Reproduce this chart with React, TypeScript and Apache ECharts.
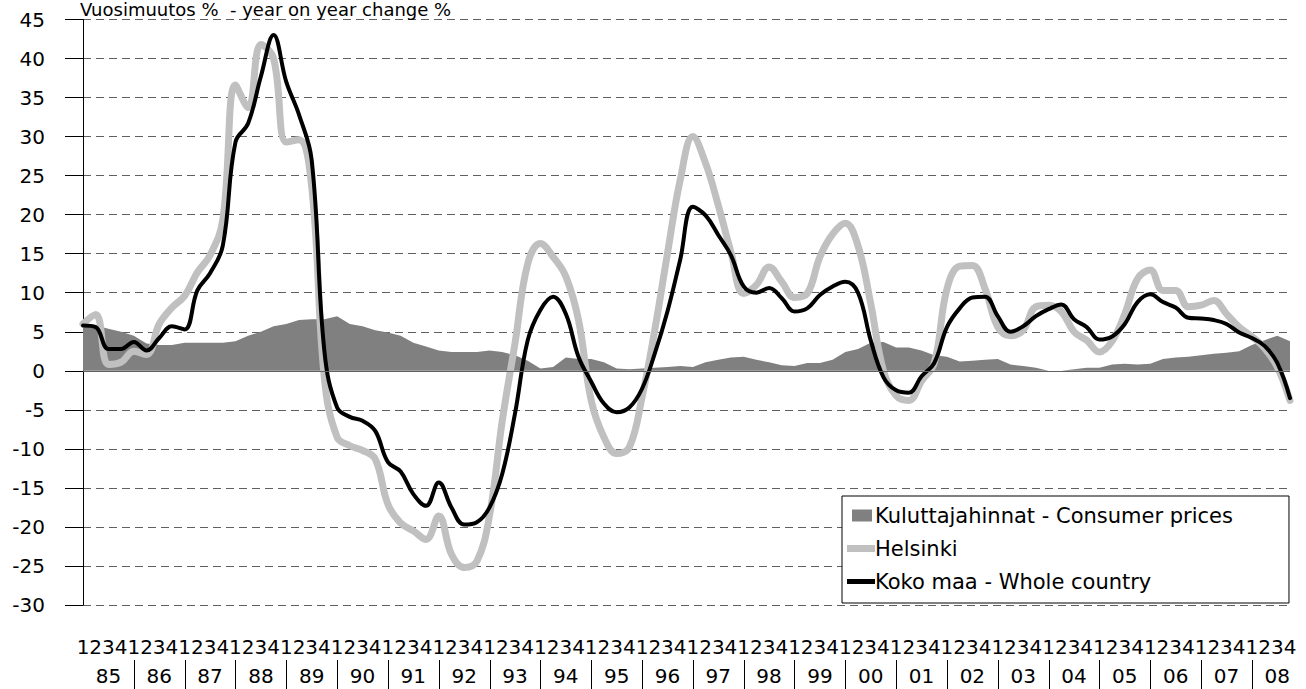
import React, { useEffect, useRef } from 'react';
import * as echarts from 'echarts';

const years = ['85', '86', '87', '88', '89', '90', '91', '92', '93', '94', '95', '96', '97', '98', '99', '00', '01', '02', '03', '04', '05', '06', '07', '08'];
const quarters = ['1', '2', '3', '4'];

const consumerPrices = [
  6.1, 5.8, 5.4, 5.0, 4.5, 3.5, 3.3, 3.3, 3.6, 3.6, 3.6, 3.6,
  3.8, 4.5, 5.0, 5.7, 6.0, 6.5, 6.6, 6.6, 7.0, 6.0, 5.7, 5.2,
  4.9, 4.5, 3.6, 3.1, 2.6, 2.4, 2.4, 2.4, 2.6, 2.4, 2.0, 1.3,
  0.3, 0.5, 1.7, 1.5, 1.5, 1.1, 0.3, 0.2, 0.3, 0.4, 0.5, 0.6,
  0.5, 1.1, 1.4, 1.7, 1.8, 1.4, 1.1, 0.7, 0.6, 1.0, 1.0, 1.4,
  2.4, 2.8, 3.6, 3.7, 3.0, 3.0, 2.6, 2.0, 1.8, 1.2, 1.3, 1.4,
  1.5, 0.8, 0.6, 0.4, 0.0, 0.0, 0.2, 0.4, 0.4, 0.8, 0.9, 0.8,
  0.9, 1.5, 1.7, 1.8, 2.0, 2.2, 2.3, 2.5, 3.3, 3.9, 4.5, 3.8,
];

const helsinki = [
  6.0, 7.2, 0.8, 1.1, 2.5, 2.1, 6.0, 8.1, 9.6, 12.6, 14.8, 19.3,
  36.6, 33.7, 41.8, 40.0, 29.3, 29.6, 23.6, -1.0, -8.5, -9.6, -10.2, -11.3,
  -17.1, -19.5, -20.5, -21.6, -18.6, -23.5, -25.2, -24.4, -18.5, -6.4, 3.5, 13.7,
  16.3, 14.6, 12.1, 6.5, -3.8, -8.5, -10.6, -9.8, -3.4, 5.2, 15.0, 24.4,
  30.0, 26.6, 21.2, 15.2, 9.9, 11.0, 13.3, 11.4, 9.4, 9.9, 14.6, 17.5,
  18.9, 16.0, 8.6, 0.0, -3.2, -3.8, -1.3, 1.0, 10.5, 13.4, 13.5, 10.5,
  5.6, 4.5, 5.2, 8.2, 8.4, 7.6, 5.0, 3.9, 2.4, 3.8, 7.3, 11.8,
  12.9, 10.3, 10.3, 8.2, 8.4, 9.0, 7.3, 5.6, 4.4, 2.9, 0.5, -3.8,
];

const wholeCountry = [
  5.8, 5.6, 2.8, 2.8, 3.7, 2.6, 4.2, 5.7, 5.3, 10.3, 12.5, 16.0,
  29.3, 31.7, 37.7, 43.0, 37.0, 32.8, 27.0, 2.5, -4.7, -5.9, -6.4, -7.7,
  -11.7, -12.9, -15.8, -17.3, -14.3, -17.5, -19.7, -19.4, -17.5, -13.2, -5.5, 3.9,
  7.8, 9.5, 7.3, 1.8, -1.4, -4.2, -5.3, -4.7, -2.3, 2.2, 7.6, 14.2,
  21.0, 19.9, 17.4, 14.8, 10.8, 10.0, 10.6, 9.3, 7.6, 8.0, 9.7, 10.8,
  11.4, 10.0, 3.9, -0.8, -2.5, -2.8, -0.7, 1.0, 5.6, 8.0, 9.4, 9.5,
  7.0, 5.0, 5.7, 7.0, 7.9, 8.5, 6.6, 5.6, 4.0, 4.4, 6.0, 8.8,
  9.8, 8.8, 8.1, 6.8, 6.7, 6.5, 6.0, 4.9, 4.2, 3.2, 1.0, -3.5,
];

const yMin = -30;
const yMax = 45;
const yStep = 5;

const titleText = 'Vuosimuutos %  - year on year change %';
const nameCPI = 'Kuluttajahinnat - Consumer prices';
const nameHelsinki = 'Helsinki';
const nameWhole = 'Koko maa - Whole country';

const FONT = 'DejaVu Sans';

export default function App() {
  const ref = useRef<HTMLDivElement>(null);

  useEffect(() => {
    if (!ref.current) return;
    const chart = echarts.init(ref.current, undefined, { renderer: 'svg' });
    const categories = years.flatMap((y) => quarters.map((q) => `${y}/${q}`));
    const yearIndex = years.map((_, i) => [i, yMin]);

    const option: any = {
      animation: false,
      backgroundColor: '#ffffff',
      textStyle: { fontFamily: FONT, color: '#000' },
      title: {
        text: titleText,
        left: 80,
        top: 0,
        padding: 0,
        textStyle: { fontFamily: FONT, fontSize: 18, fontWeight: 'normal', color: '#000' },
      },
      grid: { left: 83, right: 16, top: 19.5, bottom: 84, containLabel: false },
      legend: {
        orient: 'vertical',
        left: 842,
        top: 496,
        padding: [9, 56, 11, 3],
        itemGap: 12,
        itemWidth: 30,
        itemHeight: 14,
        backgroundColor: '#ffffff',
        borderColor: '#000000',
        borderWidth: 1,
        borderRadius: 0,
        itemStyle: { borderWidth: 0 },
        textStyle: { fontFamily: FONT, fontSize: 21, color: '#000', padding: [0, 0, 0, -5] },
        data: [
          { name: nameCPI, icon: 'path://M0 0M30 14M7 1h20v12H7z' },
          { name: nameHelsinki, icon: 'path://M0 0M30 14M2 3.5h28v7H2z' },
          { name: nameWhole, icon: 'path://M0 0M30 14M2 4.5h28v5H2z' },
        ],
      },
      xAxis: {
        type: 'category',
        data: categories,
        boundaryGap: false,
        axisLine: { show: false },
        axisTick: { show: false },
        splitLine: { show: false },
        axisLabel: {
          interval: 0,
          margin: 32,
          fontSize: 20,
          fontFamily: FONT,
          color: '#000',
          formatter: (v: string) => v.split('/')[1],
        },
      },
      yAxis: {
        type: 'value',
        min: yMin,
        max: yMax,
        interval: yStep,
        axisLine: { show: true, lineStyle: { color: '#000', width: 1 } },
        axisTick: { show: true, length: 18, lineStyle: { color: '#000', width: 1 } },
        axisLabel: { margin: 38, fontSize: 20, fontFamily: FONT, color: '#000', padding: [8, 0, 0, 0] },
        splitLine: { show: true, lineStyle: { color: '#606060', width: 1, type: [8, 5] } },
      },
      series: [
        {
          name: nameCPI,
          type: 'line',
          data: consumerPrices,
          color: '#808080',
          symbol: 'none',
          smooth: false,
          lineStyle: { width: 0, color: '#808080' },
          areaStyle: { color: '#808080', opacity: 1 },
          z: 2,
          markLine: {
            silent: true,
            symbol: ['none', 'none'],
            label: { show: false },
            lineStyle: { color: '#606060', width: 1.2, type: 'solid' },
            data: [{ yAxis: 0 }],
          },
        },
        {
          name: nameHelsinki,
          type: 'line',
          data: helsinki,
          color: '#c0c0c0',
          symbol: 'none',
          smooth: 0.4,
          lineStyle: { width: 7, color: '#c0c0c0', cap: 'round', join: 'round' },
          z: 3,
        },
        {
          name: nameWhole,
          type: 'line',
          data: wholeCountry,
          color: '#000000',
          symbol: 'none',
          smooth: 0.4,
          lineStyle: { width: 4, color: '#000000', cap: 'round', join: 'round' },
          z: 4,
        },
        {
          name: 'years',
          type: 'custom',
          data: yearIndex,
          silent: true,
          clip: false,
          z: 5,
          renderItem: (_params: any, api: any) => {
            const yi = api.value(0) as number;
            const c = api.coord([yi * 4 + 1.5, yMin]);
            const children: any[] = [
              {
                type: 'text',
                x: c[0],
                y: c[1] + 71,
                style: {
                  text: years[yi],
                  fontSize: 20,
                  fontFamily: FONT,
                  fill: '#000',
                  align: 'center',
                  verticalAlign: 'middle',
                  textAlign: 'center',
                  textVerticalAlign: 'middle',
                },
              },
            ];
            if (yi < years.length - 1) {
              const s = api.coord([yi * 4 + 3.5, yMin]);
              children.push({
                type: 'line',
                shape: { x1: Math.round(s[0]) + 0.5, y1: s[1] + 55, x2: Math.round(s[0]) + 0.5, y2: s[1] + 90 },
                style: { stroke: '#000', lineWidth: 1 },
              });
            }
            return { type: 'group', children };
          },
        },
      ],
    };
    chart.setOption(option);
    return () => chart.dispose();
  }, []);

  return <div ref={ref} style={{ position: 'fixed', left: 0, top: 0, width: 1306, height: 689 }} />;
}
